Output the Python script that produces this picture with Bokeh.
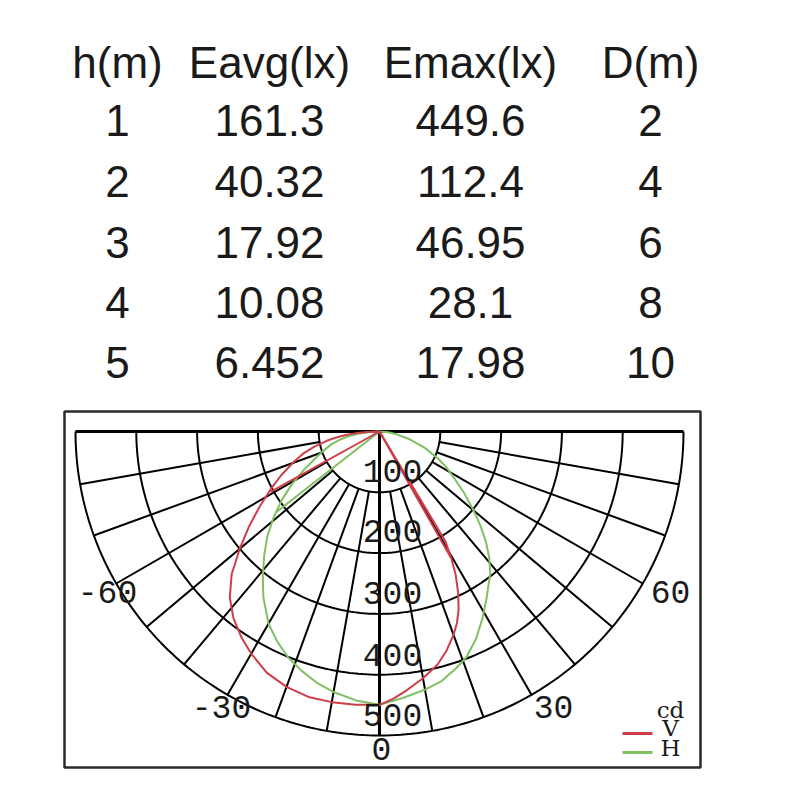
import numpy as np
from bokeh.plotting import figure
from bokeh.models import Range1d
from bokeh.embed import file_html
from bokeh.resources import INLINE
from bokeh.core.properties import value

# ---------------- table data ----------------
table_headers = ["h(m)", "Eavg(lx)", "Emax(lx)", "D(m)"]
heights_m = ["1", "2", "3", "4", "5"]
eavg_lx = ["161.3", "40.32", "17.92", "10.08", "6.452"]
emax_lx = ["449.6", "112.4", "46.95", "28.1", "17.98"]
dist_m = ["2", "4", "6", "8", "10"]

# ---------------- polar (candela) data ----------------
# V plane (red): angle in degrees from nadir (negative = left), intensity in cd
v_angle = [-90, -88, -86, -84, -82, -80, -77, -74, -70, -66, -62, -58, -54, -50,
           -46, -42, -38, -34, -30, -25, -20, -15, -10, -5, 0,
           3, 6, 10, 14, 17, 20, 22, 24, 26, 28, 29.5, 31, 33]
v_cd = [0, 18, 38, 56, 73, 88, 110, 130, 152, 177, 203, 232, 265, 300,
        338, 368, 390, 407, 422, 438, 447, 452, 452, 451, 449.6,
        440, 428, 412, 395, 377, 356, 340, 320, 295, 267, 240, 210, 0]
v_spoke_angle = [-61, 29.5]
v_spoke_cd = [205, 238]

# H plane (green)
h_angle = [-90, -87, -84, -81, -78, -75, -71, -67, -63, -59, -55, -51, -47, -43,
           -39, -35, -30, -26, -22, -18, -14, -10, -5, 0,
           5, 10, 14, 18, 21, 25, 29, 33, 38, 41, 44, 47, 50, 54, 58, 62, 65,
           70, 76, 81, 85, 90]
h_cd = [0, 17, 36, 53, 68, 82, 98, 116, 140, 168, 196, 224, 252, 278,
        305, 333, 365, 384, 401, 414, 426, 435, 444, 449.6,
        440, 431, 423, 409, 398, 376, 350, 324, 296, 275, 252, 227, 202, 172, 145, 124, 107,
        80, 49, 27, 14, 0]
h_spoke_angle = [-52]
h_spoke_cd = [215]

ring_cd = [100, 200, 300, 400, 500]
ring_labels = ["100", "200", "300", "400", "500"]
grid_angles = [-80, -70, -60, -50, -40, -30, -20, -10, 10, 20, 30, 40, 50, 60, 70, 80]
angle_labels = ["-60", "-30", "0", "30", "60"]
legend_labels = ["cd", "V", "H"]

RED = "#cf3d48"
GREEN = "#7fc062"

# ---------------- layout (page pixels -> cd units) ----------------
W = H = 784
OFF = 0
CX, CY = 379.0, 431.0          # polar centre on page
PX = 304.0 / 500.0             # pixels per candela


def X(px):
    return (px - CX) / PX


def Y(py):
    return (CY - py) / PX


def polar(angles, cds):
    th = np.radians(np.asarray(angles, dtype=float))
    r = np.asarray(cds, dtype=float)
    return r * np.sin(th), -r * np.cos(th)


p = figure(width=W, height=H, output_backend="svg", toolbar_location=None,
           x_range=Range1d(X(OFF), X(OFF + W)), y_range=Range1d(Y(OFF + H), Y(OFF)),
           min_border=0, outline_line_color=None, background_fill_color="white",
           border_fill_color="white")
p.axis.visible = False
p.grid.visible = False

# ---------------- table ----------------
col_cx = [117, 269, 470, 650]
hdr_mid = 62
row_mid = [120, 181, 242, 302, 362]
columns = [heights_m, eavg_lx, emax_lx, dist_m]
tx, ty, tt = [], [], []
for j, h in enumerate(table_headers):
    tx.append(X(col_cx[j])); ty.append(Y(hdr_mid)); tt.append(h)
for j, col in enumerate(columns):
    for i, v in enumerate(col):
        tx.append(X(col_cx[j])); ty.append(Y(row_mid[i])); tt.append(v)
p.text(x=tx, y=ty, text=tt, text_font=value("Liberation Sans"), text_font_size="44px",
       text_align="center", text_baseline="middle", text_color="#1a1a1a")

# ---------------- frame ----------------
p.quad(left=[X(64)], right=[X(700)], top=[Y(411)], bottom=[Y(767)],
       fill_color=None, line_color="#2a2a2a", line_width=2.5)

# ---------------- polar grid ----------------
th = np.linspace(-90, 90, 181)
for rc in ring_cd:
    gx, gy = polar(th, np.full_like(th, rc))
    p.line(gx, gy, line_color="black", line_width=2)

sx, sy = [], []
for a in grid_angles:
    ax, ay = polar([a, a], [ring_cd[0], ring_cd[-1]])
    sx.append(list(ax)); sy.append(list(ay))
p.multi_line(sx, sy, line_color="black", line_width=2)

hx, hy = polar([-90, 90], [ring_cd[-1], ring_cd[-1]])
p.line(hx, hy, line_color="black", line_width=3)
vx, vy = polar([0, 0], [0, ring_cd[-1]])
p.line(vx, vy, line_color="black", line_width=3)

# ---------------- curves ----------------
hx1, hy1 = polar(h_angle, h_cd)
p.line(hx1, hy1, line_color=GREEN, line_width=2, line_join="round")
for a, c in zip(h_spoke_angle, h_spoke_cd):
    ex, ey = polar([a], [c])
    p.line([0, ex[0]], [0, ey[0]], line_color=GREEN, line_width=2)

vx1, vy1 = polar(v_angle, v_cd)
p.line(vx1, vy1, line_color=RED, line_width=2, line_join="round")
for a, c in zip(v_spoke_angle, v_spoke_cd):
    ex, ey = polar([a], [c])
    p.line([0, ex[0]], [0, ey[0]], line_color=RED, line_width=2)

# ---------------- ring labels ----------------
ring_mid = [470, 530, 592, 654, 714]
p.text(x=[X(392)] * len(ring_labels), y=[Y(b) for b in ring_mid], text=ring_labels,
       text_font=value("Liberation Mono"), text_font_size="33px",
       text_align="center", text_baseline="middle", text_color="#1a1a1a")

# ---------------- angle labels ----------------
al_x = [107, 221, 381, 553, 670]
al_mid = [591, 706, 748, 706, 591]
p.text(x=[X(v) for v in al_x], y=[Y(b) for b in al_mid], text=angle_labels,
       text_font=value("Liberation Mono"), text_font_size="33px",
       text_align="center", text_baseline="middle", text_color="#1a1a1a")

# ---------------- legend ----------------
p.text(x=[X(670), X(670), X(670)], y=[Y(709), Y(727), Y(747)], text=legend_labels,
       text_font=value("DejaVu Serif"), text_font_size="23px",
       text_align="center", text_baseline="middle", text_color="#1a1a1a")
p.line([X(622), X(652)], [Y(733), Y(733)], line_color=RED, line_width=3)
p.line([X(622), X(652)], [Y(752), Y(752)], line_color=GREEN, line_width=3)

open("out.html", "w").write(file_html(p, INLINE))
